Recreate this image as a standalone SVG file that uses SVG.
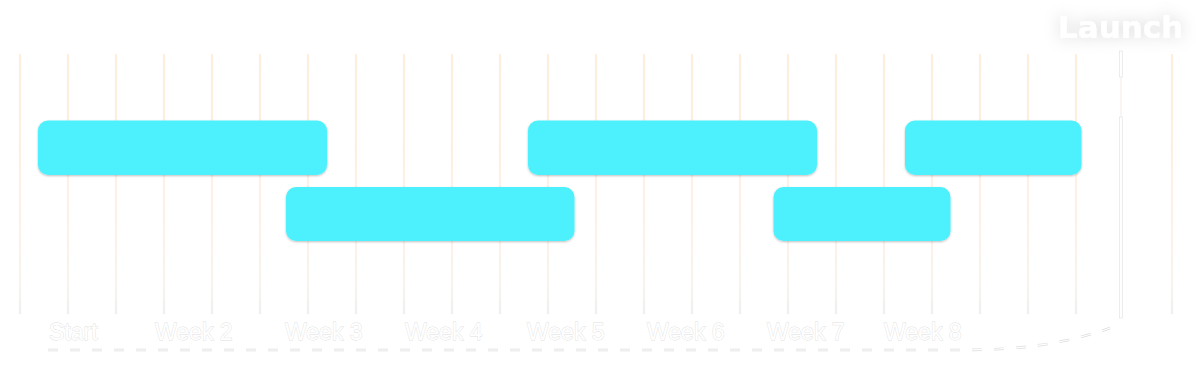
<svg xmlns="http://www.w3.org/2000/svg" width="1200" height="382" viewBox="0 0 1200 382">
  <defs>
    <linearGradient id="gridGrad" x1="0" y1="54" x2="0" y2="314" gradientUnits="userSpaceOnUse">
      <stop offset="0" stop-color="#fdeedd"/>
      <stop offset="0.55" stop-color="#fdf1e5"/>
      <stop offset="0.9" stop-color="#f8f3ef"/>
      <stop offset="1" stop-color="#efefef"/>
    </linearGradient>
    <filter id="glow" x="-30%" y="-80%" width="160%" height="260%">
      <feGaussianBlur in="SourceAlpha" stdDeviation="8" result="b"/>
      <feFlood flood-color="#000000" flood-opacity="0.17"/>
      <feComposite in2="b" operator="in" result="s"/>
      <feMerge><feMergeNode in="s"/><feMergeNode in="SourceGraphic"/></feMerge>
    </filter>
    <filter id="barShadow" x="-5%" y="-10%" width="110%" height="130%">
      <feGaussianBlur in="SourceAlpha" stdDeviation="0.8" result="b"/>
      <feOffset dy="0.8" result="o"/>
      <feFlood flood-color="#000000" flood-opacity="0.25"/>
      <feComposite in2="o" operator="in" result="s"/>
      <feMerge><feMergeNode in="s"/><feMergeNode in="SourceGraphic"/></feMerge>
    </filter>
  </defs>
  <style>
    .grid line { stroke: url(#gridGrad); stroke-width: 2.2; }
    .bar { fill: #4ef1fd; filter: url(#barShadow); }
    .wk { font-family: "Liberation Sans", Arial, sans-serif; font-size: 23px; fill: #ffffff; stroke: #e0e0e0; stroke-width: 0.8; paint-order: stroke; }
    .launch { font-family: "DejaVu Sans", sans-serif; font-weight: bold; font-size: 31px; fill: #ffffff; }
    .tick { fill: #ffffff; stroke: #e4e4e4; stroke-width: 0.7; }
  </style>
  <rect width="1200" height="382" fill="#ffffff"/>

  <g id="grid" class="grid">
    <line x1="20" y1="54" x2="20" y2="314"/>
    <line x1="68" y1="54" x2="68" y2="314"/>
    <line x1="116" y1="54" x2="116" y2="314"/>
    <line x1="164" y1="54" x2="164" y2="314"/>
    <line x1="212" y1="54" x2="212" y2="314"/>
    <line x1="260" y1="54" x2="260" y2="314"/>
    <line x1="308" y1="54" x2="308" y2="314"/>
    <line x1="356" y1="54" x2="356" y2="314"/>
    <line x1="404" y1="54" x2="404" y2="314"/>
    <line x1="452" y1="54" x2="452" y2="314"/>
    <line x1="500" y1="54" x2="500" y2="314"/>
    <line x1="548" y1="54" x2="548" y2="314"/>
    <line x1="596" y1="54" x2="596" y2="314"/>
    <line x1="644" y1="54" x2="644" y2="314"/>
    <line x1="692" y1="54" x2="692" y2="314"/>
    <line x1="740" y1="54" x2="740" y2="314"/>
    <line x1="788" y1="54" x2="788" y2="314"/>
    <line x1="836" y1="54" x2="836" y2="314"/>
    <line x1="884" y1="54" x2="884" y2="314"/>
    <line x1="932" y1="54" x2="932" y2="314"/>
    <line x1="980" y1="54" x2="980" y2="314"/>
    <line x1="1028" y1="54" x2="1028" y2="314"/>
    <line x1="1076" y1="54" x2="1076" y2="314"/>
    <line x1="1172" y1="54" x2="1172" y2="314"/>
  </g>

  <g id="launch-line">
    <line x1="1121" y1="77" x2="1121" y2="117" stroke="#f6f2ee" stroke-width="1.5"/>
    <rect class="tick" x="1119.5" y="51" width="3" height="26"/>
    <rect class="tick" x="1119.5" y="117" width="3" height="201"/>
  </g>

  <g id="launch" filter="url(#glow)">
    <text class="launch" x="1058" y="37.5">Launch</text>
  </g>

  <g id="task1"><rect class="bar" x="38" y="120.5" width="289" height="54.5" rx="10"/></g>
  <g id="task2"><rect class="bar" x="286" y="187" width="288.5" height="54" rx="10"/></g>
  <g id="task3"><rect class="bar" x="528" y="120.5" width="289" height="54.5" rx="10"/></g>
  <g id="task4"><rect class="bar" x="773.5" y="187" width="177" height="54" rx="10"/></g>
  <g id="task5"><rect class="bar" x="905" y="120.5" width="176.5" height="54.5" rx="10"/></g>

  <g id="connectors">
    <path d="M48,350 L960,350 C1020,350 1065,344 1110,328" fill="none" stroke="#dcdcdc" stroke-width="2.6" stroke-dasharray="10 12"/>
    <path d="M48,350 L960,350 C1020,350 1065,344 1110,328" fill="none" stroke="#ffffff" stroke-width="1.2" stroke-dasharray="10 12"/>
  </g>

  <g id="axis-labels">
    <text class="wk" x="49" y="340">Start</text>
    <text class="wk" x="155" y="340">Week 2</text>
    <text class="wk" x="285" y="340">Week 3</text>
    <text class="wk" x="405" y="340">Week 4</text>
    <text class="wk" x="527" y="340">Week 5</text>
    <text class="wk" x="647" y="340">Week 6</text>
    <text class="wk" x="767" y="340">Week 7</text>
    <text class="wk" x="884" y="340">Week 8</text>
  </g>
</svg>
